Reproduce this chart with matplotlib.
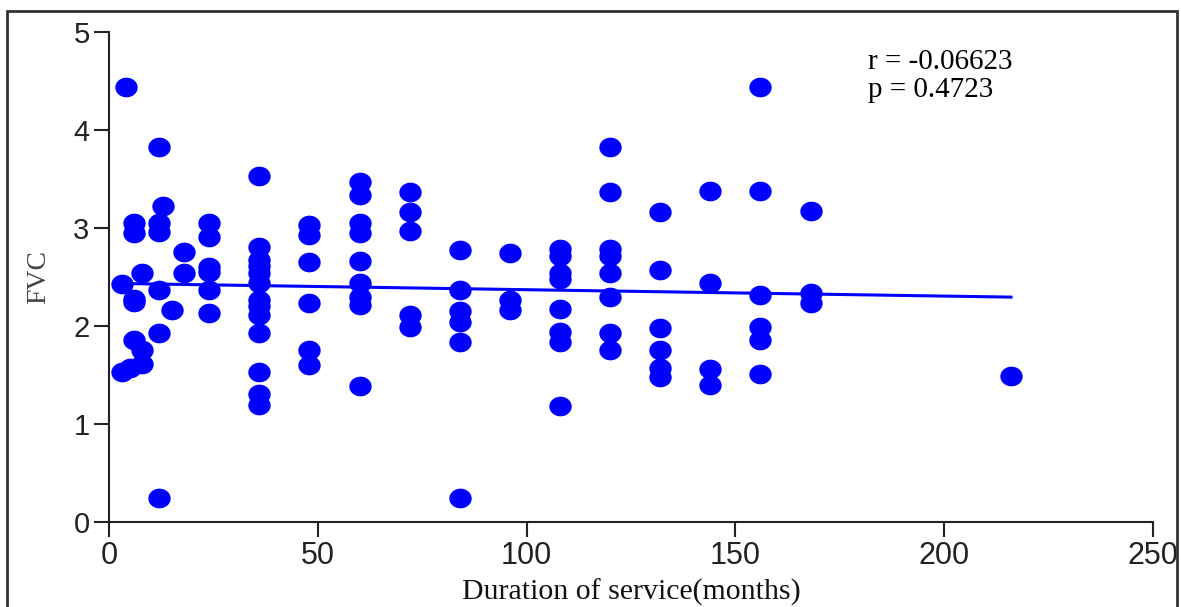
import numpy as np
import matplotlib
matplotlib.use("Agg")
import matplotlib.pyplot as plt
from matplotlib.patches import Rectangle

# duration of service (months) -> FVC readings, one list per column of dots
months = [3, 4, 5, 6, 8, 12, 13, 15, 18, 24, 36, 48, 60, 72, 84, 96,
          108, 120, 132, 144, 156, 168, 216]
fvc = [
    [2.43, 1.53],
    [4.44],
    [1.57],
    [3.05, 2.95, 2.28, 2.24, 1.86],
    [2.54, 1.76, 1.61],
    [3.83, 3.05, 2.96, 2.37, 1.93, 0.24],
    [3.22],
    [2.16],
    [2.76, 2.54],
    [3.05, 2.91, 2.60, 2.55, 2.37, 2.13],
    [3.53, 2.81, 2.67, 2.61, 2.54, 2.44, 2.27, 2.20, 2.11, 1.93, 1.53, 1.31, 1.19],
    [3.03, 2.93, 2.65, 2.23, 1.76, 1.60],
    [3.47, 3.34, 3.05, 2.95, 2.66, 2.44, 2.30, 2.21, 1.39],
    [3.37, 3.16, 2.97, 2.11, 1.99],
    [2.78, 2.37, 2.15, 2.04, 1.84, 0.24],
    [2.75, 2.27, 2.16],
    [2.79, 2.71, 2.54, 2.48, 2.17, 1.94, 1.84, 1.18],
    [3.83, 3.37, 2.79, 2.71, 2.54, 2.30, 1.93, 1.76],
    [3.16, 2.57, 1.98, 1.76, 1.57, 1.48],
    [3.38, 2.44, 1.56, 1.40],
    [4.44, 3.38, 2.32, 1.99, 1.86, 1.51],
    [3.17, 2.34, 2.23],
    [1.49],
]
x_ticks = [0, 50, 100, 150, 200, 250]
y_ticks = [0, 1, 2, 3, 4, 5]
stats_text = "r = -0.06623\np = 0.4723"

xs = np.concatenate([[m] * len(v) for m, v in zip(months, fvc)])
ys = np.concatenate(fvc)

W, H = 1181, 607
fig = plt.figure(figsize=(W / 100, H / 100), dpi=100)
ax = fig.add_axes([109 / W, 1 - 522 / H, 1044 / W, 490 / H])

# slightly flattened dots like the original
t = np.linspace(0, 2 * np.pi, 40)
ellipse = list(zip(np.cos(t), 0.88 * np.sin(t)))
ax.scatter(xs, ys, s=260, marker=ellipse, color="#0000ff", linewidths=0, zorder=3)

# least squares line over the data range
slope, icpt = np.polyfit(xs, ys, 1)
lx = np.array([xs.min(), xs.max()])
ax.plot(lx, icpt + slope * lx, color="#0000ff", lw=2.2, zorder=2)

ax.set_xlim(0, 250)
ax.set_ylim(0, 5)
ax.set_xticks(x_ticks)
ax.set_yticks(y_ticks)
for s in ["top", "right"]:
    ax.spines[s].set_visible(False)
for s in ["left", "bottom"]:
    ax.spines[s].set_linewidth(1.5)
    ax.spines[s].set_color("#222222")
ax.tick_params(direction="out", length=11, width=1.5, color="#222222", pad=3)
ax.tick_params(axis="x", labelsize=22)
ax.tick_params(axis="y", labelsize=21)
for lab in ax.get_xticklabels() + ax.get_yticklabels():
    lab.set_family("Liberation Sans")
    lab.set_color("#222222")

ax.set_xlabel("Duration of service(months)", family="Liberation Serif",
              fontsize=21.5, labelpad=5, color="#111111")
ax.set_ylabel("FVC", family="Liberation Serif", fontsize=20, labelpad=16,
              color="#444444")

ax.text(0.727, 0.965, stats_text, transform=ax.transAxes, family="Liberation Serif",
        fontsize=21, va="top", ha="left", linespacing=1.1)

# outer frame around the picture
fig.patches.append(Rectangle((7 / W, -0.05), 1170 / W, 1.05 - 11 / H,
                             transform=fig.transFigure, fill=False,
                             lw=2, edgecolor="#333333"))

fig.savefig("out.png", dpi=100)
